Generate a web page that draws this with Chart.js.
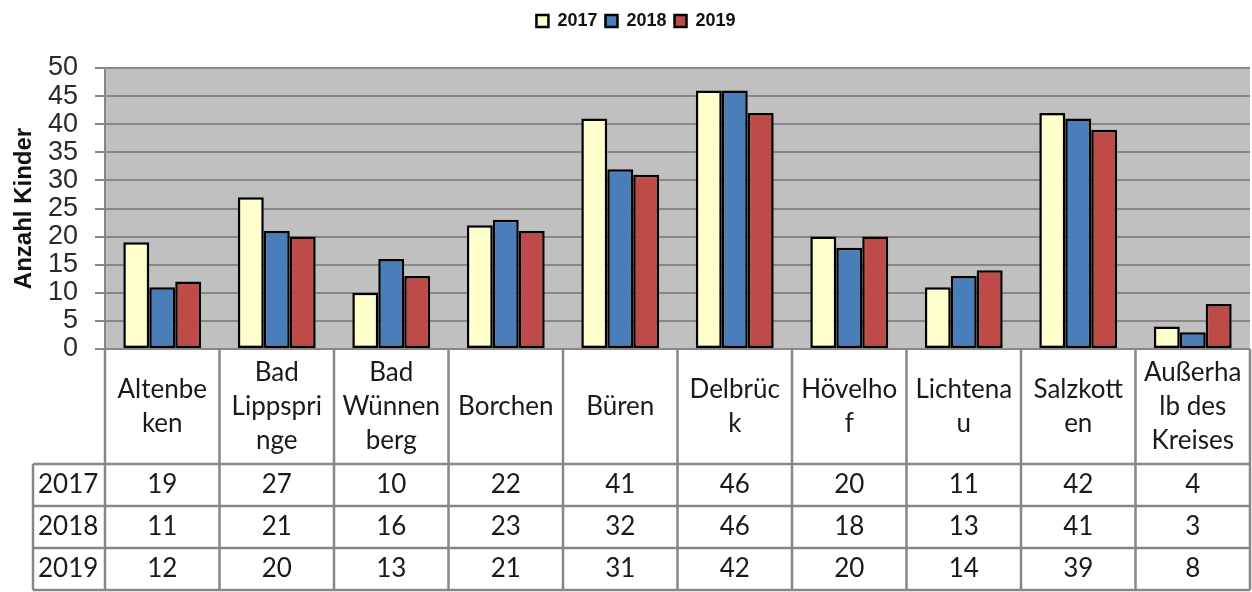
<!DOCTYPE html>
<html>
<head>
<meta charset="utf-8">
<script src="https://cdn.jsdelivr.net/npm/chart.js@4"></script>
<style>
  html, body { margin: 0; padding: 0; background: #fff; }
  #wrap { width: 1252px; height: 592px; }
</style>
</head>
<body>
<div id="wrap"><canvas id="kinderChart" width="1252" height="592"></canvas></div>
<script>
// Daten
const gemeinden = ['Altenbeken', 'Bad Lippspringe', 'Bad Wünnenberg', 'Borchen', 'Büren',
    'Delbrück', 'Hövelhof', 'Lichtenau', 'Salzkotten', 'Außerhalb des Kreises'];
// Kopfzeilen der Tabelle, so umbrochen wie im Original
const kopfZeilen = [['Altenbe', 'ken'], ['Bad', 'Lippspri', 'nge'], ['Bad', 'Wünnen', 'berg'],
    ['Borchen'], ['Büren'], ['Delbrüc', 'k'], ['Hövelho', 'f'], ['Lichtena', 'u'],
    ['Salzkott', 'en'], ['Außerha', 'lb des', 'Kreises']];
const jahre = ['2017', '2018', '2019'];
const werte2017 = [19, 27, 10, 22, 41, 46, 20, 11, 42, 4];
const werte2018 = [11, 21, 16, 23, 32, 46, 18, 13, 41, 3];
const werte2019 = [12, 20, 13, 21, 31, 42, 20, 14, 39, 8];
const yTicks = [0, 5, 10, 15, 20, 25, 30, 35, 40, 45, 50];

const farben = ['#ffffcc', '#4a7ebb', '#be4b48'];
const gitterFarbe = '#878787';

// Hintergrund der Zeichenfläche
const plotBackground = {
    id: 'plotBackground',
    beforeDraw(chart) {
        const { ctx, chartArea } = chart;
        ctx.save();
        ctx.fillStyle = '#c0c0c0';
        ctx.fillRect(chartArea.left, chartArea.top, chartArea.right - chartArea.left, chartArea.bottom - chartArea.top);
        ctx.restore();
    }
};

// Abstand unter der Legende, Legende etwas nach rechts
const legendMargin = {
    id: 'legendMargin',
    beforeInit(chart) {
        const fit = chart.legend.fit;
        chart.legend.fit = function () {
            fit.bind(chart.legend)();
            this.height += 28;
        };
    },
    afterLayout(chart) {
        chart.legend.left += 22;
    }
};

// Datentabelle unter dem Diagramm
const dataTable = {
    id: 'dataTable',
    afterDraw(chart) {
        const { ctx, chartArea } = chart;
        const n = gemeinden.length;
        const colW = (chartArea.right - chartArea.left) / n;
        const top = chartArea.bottom;
        const headerBottom = top + 115;
        const rowH = 42;
        const labelLeft = 33;
        const reihen = [werte2017, werte2018, werte2019];
        const tableBottom = headerBottom + rowH * reihen.length;

        ctx.save();
        ctx.strokeStyle = gitterFarbe;
        ctx.lineWidth = 2.5;

        // senkrechte Linien
        for (let i = 0; i <= n; i++) {
            const x = chartArea.left + i * colW;
            ctx.beginPath();
            ctx.moveTo(x, top);
            ctx.lineTo(x, tableBottom);
            ctx.stroke();
        }
        ctx.beginPath();
        ctx.moveTo(labelLeft, headerBottom);
        ctx.lineTo(labelLeft, tableBottom);
        ctx.stroke();

        // waagerechte Linien
        for (let r = 0; r <= reihen.length; r++) {
            const y = headerBottom + r * rowH;
            ctx.beginPath();
            ctx.moveTo(labelLeft, y);
            ctx.lineTo(chartArea.right, y);
            ctx.stroke();
        }

        ctx.fillStyle = '#1a1a1a';
        ctx.font = '26px Lato';
        ctx.textAlign = 'center';
        ctx.textBaseline = 'middle';

        // Kopfzeile
        const headerMid = (top + headerBottom) / 2;
        const lineH = 34;
        kopfZeilen.forEach((zeilen, i) => {
            const cx = chartArea.left + (i + 0.5) * colW;
            const start = headerMid - (zeilen.length - 1) * lineH / 2;
            zeilen.forEach((z, k) => ctx.fillText(z, cx, start + k * lineH));
        });

        // Werte
        reihen.forEach((werte, r) => {
            const cy = headerBottom + (r + 0.5) * rowH;
            ctx.textAlign = 'left';
            ctx.fillText(jahre[r], labelLeft + 5, cy);
            ctx.textAlign = 'center';
            werte.forEach((v, i) => {
                ctx.fillText(String(v), chartArea.left + (i + 0.5) * colW, cy);
            });
        });
        ctx.restore();
    }
};

const reihenDaten = [werte2017, werte2018, werte2019];

new Chart(document.getElementById('kinderChart'), {
    type: 'bar',
    data: {
        labels: gemeinden,
        datasets: jahre.map((jahr, i) => ({
            label: jahr,
            data: reihenDaten[i],
            backgroundColor: farben[i],
            borderColor: '#000',
            borderWidth: 2.5,
            borderSkipped: false,
            barPercentage: 1.0,
            categoryPercentage: 0.68
        }))
    },
    options: {
        responsive: false,
        animation: false,
        devicePixelRatio: 1,
        layout: {
            padding: { left: 0, right: 2, top: 4, bottom: 243 }
        },
        scales: {
            x: {
                display: false
            },
            y: {
                min: 0,
                max: 50,
                afterFit: function (scale) {
                    scale.width = 105;
                },
                afterBuildTicks: function (scale) {
                    scale.ticks = yTicks.map(v => ({ value: v }));
                },
                ticks: {
                    autoSkip: false,
                    color: '#2a2a2a',
                    padding: 17,
                    font: { family: 'Liberation Sans', size: 27, lineHeight: 1 }
                },
                grid: {
                    color: gitterFarbe,
                    lineWidth: 2,
                    tickLength: 10,
                    drawTicks: true
                },
                border: {
                    display: true,
                    color: gitterFarbe,
                    width: 2
                },
                title: {
                    display: true,
                    text: 'Anzahl Kinder',
                    color: '#111',
                    font: { family: 'Liberation Sans', size: 24, weight: 'bold' },
                    padding: { top: 10, bottom: 0 }
                }
            }
        },
        plugins: {
            legend: {
                display: true,
                position: 'top',
                labels: {
                    boxWidth: 12,
                    boxHeight: 12,
                    padding: 8,
                    color: '#111',
                    font: { family: 'Liberation Sans', size: 18, weight: 'bold' }
                }
            },
            tooltip: { enabled: false }
        }
    },
    plugins: [plotBackground, legendMargin, dataTable]
});
</script>
</body>
</html>
